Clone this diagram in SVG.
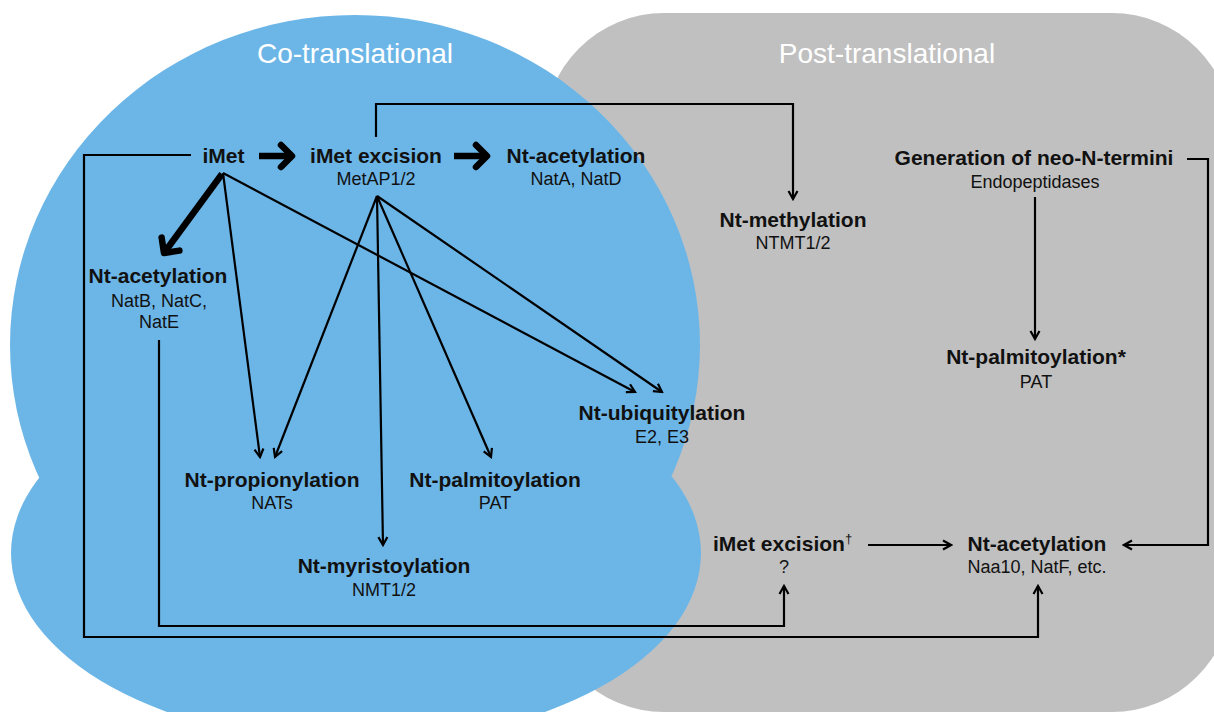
<svg xmlns="http://www.w3.org/2000/svg" width="1214" height="712" viewBox="0 0 1214 712">
<defs>
<style>
.lbl{font-family:"Liberation Sans",Arial,sans-serif;font-weight:bold;font-size:21px;fill:#111;text-anchor:middle}
.sub{font-family:"Liberation Sans",Arial,sans-serif;font-weight:normal;font-size:18px;fill:#111;text-anchor:middle}
.ttl{font-family:"Liberation Sans",Arial,sans-serif;font-size:28px;fill:#fff;text-anchor:middle}
.ln{fill:none;stroke:#000;stroke-width:2.2}
.thick{fill:none;stroke:#000;stroke-width:6.5}
</style>
<marker id="ah" markerUnits="userSpaceOnUse" viewBox="0 0 12 12" refX="10" refY="6" markerWidth="12" markerHeight="12" orient="auto">
<path d="M2,1.5 L10,6 L2,10.5" fill="none" stroke="#000" stroke-width="2.2"/>
</marker>
<marker id="big" markerUnits="userSpaceOnUse" viewBox="0 0 30 30" refX="20" refY="15" markerWidth="30" markerHeight="30" orient="auto">
<path d="M9,4 L20,15 L9,26" fill="none" stroke="#000" stroke-width="6.5" stroke-linecap="round" stroke-linejoin="round"/>
</marker>
</defs>

<rect id="post-bg" x="544" y="13" width="688" height="699" rx="120" ry="120" fill="#c0c0c0"/>
<g id="co-bg" fill="#6cb6e7">
<ellipse cx="355" cy="345" rx="345" ry="330"/>
<ellipse cx="356" cy="553" rx="345" ry="190"/>
</g>

<text class="ttl" x="355" y="63">Co-translational</text>
<text class="ttl" x="887" y="63">Post-translational</text>

<g id="connectors">
<path class="thick" d="M259,156 H292" marker-end="url(#big)"/>
<path class="thick" d="M454,156 H487" marker-end="url(#big)"/>
<path class="thick" d="M222,174 L164,253" marker-end="url(#big)"/>
<path class="ln" d="M223,173 L260,457" marker-end="url(#ah)"/>
<path class="ln" d="M223,173 L635,392" marker-end="url(#ah)"/>
<path class="ln" d="M377,196 L275,457" marker-end="url(#ah)"/>
<path class="ln" d="M377,196 L383,545" marker-end="url(#ah)"/>
<path class="ln" d="M377,196 L491,457" marker-end="url(#ah)"/>
<path class="ln" d="M377,196 L662,392" marker-end="url(#ah)"/>
<path class="ln" d="M376,137 V104 H793 V199" marker-end="url(#ah)"/>
<path class="ln" d="M191,155 H84 V637 H1038 V586" marker-end="url(#ah)"/>
<path class="ln" d="M159,340 V626 H784 V586" marker-end="url(#ah)"/>
<path class="ln" d="M1187,159 H1208 V545 H1124" marker-end="url(#ah)"/>
<path class="ln" d="M1035,197 V339" marker-end="url(#ah)"/>
<path class="ln" d="M868,545 H951" marker-end="url(#ah)"/>
</g>

<g id="imet"><text class="lbl" x="223.5" y="163">iMet</text></g>
<g id="imet-excision"><text class="lbl" x="376" y="163">iMet excision</text><text class="sub" x="376" y="185">MetAP1/2</text></g>
<g id="nt-acetylation-a"><text class="lbl" x="576" y="163">Nt-acetylation</text><text class="sub" x="576" y="185">NatA, NatD</text></g>
<g id="nt-acetylation-b"><text class="lbl" x="158" y="283">Nt-acetylation</text><text class="sub" x="159" y="307">NatB, NatC,</text><text class="sub" x="159" y="328">NatE</text></g>
<g id="nt-methylation"><text class="lbl" x="793" y="227">Nt-methylation</text><text class="sub" x="793" y="249">NTMT1/2</text></g>
<g id="neo-termini"><text class="lbl" x="1034" y="165">Generation of neo-N-termini</text><text class="sub" x="1035" y="188">Endopeptidases</text></g>
<g id="nt-palmitoylation-post"><text class="lbl" x="1036" y="364">Nt-palmitoylation*</text><text class="sub" x="1036" y="388">PAT</text></g>
<g id="nt-ubiquitylation"><text class="lbl" x="662" y="420">Nt-ubiquitylation</text><text class="sub" x="662" y="443">E2, E3</text></g>
<g id="nt-propionylation"><text class="lbl" x="272" y="487">Nt-propionylation</text><text class="sub" x="272" y="509">NATs</text></g>
<g id="nt-palmitoylation-co"><text class="lbl" x="495" y="487">Nt-palmitoylation</text><text class="sub" x="495" y="509">PAT</text></g>
<g id="nt-myristoylation"><text class="lbl" x="384" y="573">Nt-myristoylation</text><text class="sub" x="384" y="596">NMT1/2</text></g>
<g id="imet-excision-post"><text class="lbl" x="713" y="551" style="text-anchor:start">iMet excision<tspan font-size="13" font-weight="normal" dy="-8">†</tspan></text><text class="sub" x="784" y="573">?</text></g>
<g id="nt-acetylation-post"><text class="lbl" x="1037" y="551">Nt-acetylation</text><text class="sub" x="1037" y="573">Naa10, NatF, etc.</text></g>
</svg>
